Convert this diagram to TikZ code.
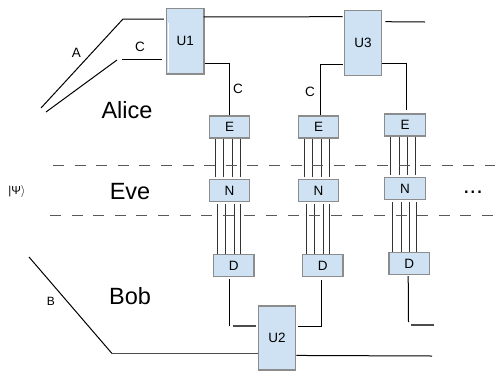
\documentclass[tikz,border=0pt]{standalone}
\usepackage{fontspec}
\setmainfont{Liberation Sans}
\usetikzlibrary{calc}

\definecolor{boxblue}{HTML}{CFE2F3}
\tikzset{
    blockbox/.style={draw=black!45, fill=boxblue, line width=1.1pt, inner sep=0pt, font=\fontsize{13.5}{15}\selectfont},
    wire/.style={black, line width=1pt},
    thickwire/.style={black!70, line width=1.4pt},
    boundary/.style={black!65, line width=1pt, dash pattern=on 11pt off 10.6pt},
    partyname/.style={inner sep=0pt, font=\fontsize{23.5}{25}\selectfont},
    wirelabel/.style={inner sep=0pt, font=\fontsize{13.5}{15}\selectfont},
}

\begin{document}
\begin{tikzpicture}[x=1pt,y=-1pt]
    \useasboundingbox (0,0) rectangle (503,370);

    % unitaries
    \node [blockbox, minimum width=37.5pt, minimum height=65.5pt] (U1) at (185.2,41.2) {U1};
    \node [blockbox, minimum width=37.5pt, minimum height=65.5pt] (U3) at (363,43) {U3};
    \node [blockbox, minimum width=37.5pt, minimum height=64pt] (U2) at (277,338) {U2};
    \draw [white, line width=0.8pt] (168.7,23) -- (168.7,71.5);

    % E, N, D columns
    \foreach \name/\cx/\cy in {1/229.5/0, 2/318.5/0, 3/405/-2} {
        \node [blockbox, minimum width=40.5pt, minimum height=22pt] (E\name) at (\cx,127+\cy) {E};
        \node [blockbox, minimum width=40.5pt, minimum height=22pt] (N\name) at (\cx,190.5+\cy) {N};
        \node [blockbox, minimum width=40.5pt, minimum height=22pt] (D\name) at (\cx+4.2,265.5+\cy) {D};
        \foreach \dx in {6.7,15,23.4,31.7}
            \draw [wire, black!80] ($(E\name.south west)+(\dx,0.5)$) -- ($(N\name.north west)+(\dx,-2)$);
        \foreach \dx in {8.7,17.2,25.6,32}
            \draw [wire, black!80] ($(N\name.south west)+(\dx,2)$) -- ($(D\name.north west)+(\dx-4.2,0)$);
    }

    % free ends
    \coordinate (a0) at (41,108);
    \coordinate (a1) at (123,19);
    \coordinate (c0) at (46,112);
    \coordinate (c1) at (117,60);
    \coordinate (c2) at (122,59);
    \coordinate (b0) at (29,257);
    \coordinate (b1) at (112,353.5);
    \coordinate (u3out) at (425,22);
    \coordinate (d3end) at (408.5,322);
    \coordinate (d3out) at (411,325);
    \coordinate (d3out2) at (434,325);
    \coordinate (u2out) at (432,356);

    % input wires
    \draw [wire] (a0) -- (a1) -- ($(a1 -| U1.west)+(-2,0)$);
    \draw [wire] (c0) -- (c1);
    \draw [wire] (c2) -- ($(c2 -| U1.west)+(-4,0)$);
    \draw [wire] (b0) -- (b1);
    \draw [thickwire] (b1) -- (b1 -| U2.west);

    % wires between unitaries
    \draw [wire] ($(U1.north east)+(-1,9)$) -- ($(U3.north west)+(-1,7)$);
    \draw [wire] ($(U3.north east)+(3,12)$) -- (u3out);
    \draw [wire] ($(U1.south east)+(0,-11)$) -| (E1.north);
    \draw [wire] ($(U3.south west)+(-1,-12)$) -| ($(E2.north)+(1.5,0)$);
    \draw [wire] ($(U3.south east)+(0,-13)$) -| ($(E3.north)+(1,-3)$);

    % wires to U2
    \draw [wire] ($(D1.south)+(-4,2)$) -- ($(D1.south)+(-4,49)$);
    \draw [thickwire] ($(D1.south)+(-1,49)$) -- ($(D1.south)+(22,49)$);
    \draw [wire] ($(D2.south)+(-1,3)$) |- ($(U2.north east)+(2,21)$);
    \draw [wire] ($(D3.south)+(-1,1)$) -- (d3end);
    \draw [thickwire] (d3out) -- (d3out2);
    \draw [wire] ($(U2.north east)+(0,50)$) -- (u2out);

    % boundaries of Eve
    \coordinate (s1) at (53,165);
    \coordinate (s2) at (495,165);
    \coordinate (s3) at (50,215.5);
    \coordinate (s4) at (503,215.5);
    \draw [boundary] (s1) -- (s2);
    \draw [boundary] (s3) -- (s4);

    % labels
    \node [partyname] (alice) at (127,110) {Alice};
    \node [partyname] (eve) at (130,192) {Eve};
    \node [partyname] (bob) at (130,296) {Bob};
    \node [partyname, anchor=base] (dots) at (473,193) {...};
    \node [wirelabel] (labelA) at (76.5,53) {A};
    \node [wirelabel] (labelC1) at (140,47) {C};
    \node [wirelabel] (labelC2) at (238,89) {C};
    \node [wirelabel] (labelC3) at (310,92) {C};
    \node [wirelabel, font=\fontsize{12}{14}\selectfont] (labelB) at (51,301.5) {B};
    \node [wirelabel, font=\fontsize{11.5}{13}\selectfont] (psi) at (17,191) {|Ψ$\rangle$};
\end{tikzpicture}
\end{document}
